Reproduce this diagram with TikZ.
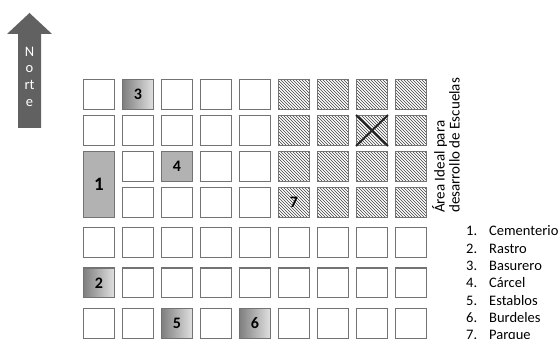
\documentclass[tikz,border=0pt]{standalone}
\usepackage{fontspec}
\setmainfont{Carlito}
\usetikzlibrary{patterns}

\begin{document}
\begin{tikzpicture}[x=1pt,y=-1pt,
  cell/.style={draw=black!55,line width=1.3pt,fill=white,minimum width=30.7pt,minimum height=29.7pt,inner sep=0pt,font=\fontsize{16}{16}\selectfont\bfseries},
  grad/.style={cell,left color=black!50,right color=black!12},
  flat/.style={cell,fill=black!30},
  zone/.style={cell,fill=none,pattern=north west lines,pattern color=black!75},
  cross/.style={line width=2pt,black!85}]

\useasboundingbox (0,0) rectangle (560,339);

% north arrow
\fill[black!62] (18,128)--(18,34)--(7,34)--(29.5,13)--(52,34)--(41,34)--(41,128)--cycle;
\node [anchor=north,inner sep=0pt,align=center,text=white,font=\fontsize{14.5}{16.8}\selectfont] (norte) at (29.5,46.5) {N\\o\\rt\\e};

% row 1
\node[cell] (a1) at (99,94.5) {};\node[grad] (a2) at (138,94.5) {3};\node[cell] (a3) at (177,94.5) {};\node[cell] (a4) at (216,94.5) {};\node[cell] (a5) at (255,94.5) {};
\node[zone] (a6) at (294,94.5) {};\node[zone] (a7) at (333,94.5) {};\node[zone] (a8) at (372,94.5) {};\node[zone] (a9) at (411,94.5) {};

% row 2
\node[cell] (b1) at (99,130.5) {};\node[cell] (b2) at (138,130.5) {};\node[cell] (b3) at (177,130.5) {};\node[cell] (b4) at (216,130.5) {};\node[cell] (b5) at (255,130.5) {};
\node[zone] (b6) at (294,130.5) {};\node[zone] (b7) at (333,130.5) {};\node[zone] (b8) at (372,130.5) {};\node[zone] (b9) at (411,130.5) {};
\draw[cross] (b8.north west)--(b8.south east) (b8.north east)--(b8.south west);

% rows 3 and 4
\node[flat,minimum height=65.7pt,font=\fontsize{19}{19}\selectfont\bfseries] (c1) at (99,184.5) {1};
\node[cell] (c2) at (138,166.5) {};\node[flat] (c3) at (177,166.5) {4};\node[cell] (c4) at (216,166.5) {};\node[cell] (c5) at (255,166.5) {};
\node[zone] (c6) at (294,166.5) {};\node[zone] (c7) at (333,166.5) {};\node[zone] (c8) at (372,166.5) {};\node[zone] (c9) at (411,166.5) {};

\node[cell] (d2) at (138,202.5) {};\node[cell] (d3) at (177,202.5) {};\node[cell] (d4) at (216,202.5) {};\node[cell] (d5) at (255,202.5) {};
\node[zone] (d6) at (294,202.5) {7};\node[zone] (d7) at (333,202.5) {};\node[zone] (d8) at (372,202.5) {};\node[zone] (d9) at (411,202.5) {};

% row 5
\node[cell] (e1) at (99,242.5) {};\node[cell] (e2) at (138,242.5) {};\node[cell] (e3) at (177,242.5) {};\node[cell] (e4) at (216,242.5) {};\node[cell] (e5) at (255,242.5) {};
\node[cell] (e6) at (294,242.5) {};\node[cell] (e7) at (333,242.5) {};\node[cell] (e8) at (372,242.5) {};\node[cell] (e9) at (411,242.5) {};

% row 6
\node[grad] (f1) at (99,283) {2};\node[cell] (f2) at (138,283) {};\node[cell] (f3) at (177,283) {};\node[cell] (f4) at (216,283) {};\node[cell] (f5) at (255,283) {};
\node[cell] (f6) at (294,283) {};\node[cell] (f7) at (333,283) {};\node[cell] (f8) at (372,283) {};\node[cell] (f9) at (411,283) {};

% row 7
\node[cell] (g1) at (99,323.5) {};\node[cell] (g2) at (138,323.5) {};\node[grad] (g3) at (177,323.5) {5};\node[cell] (g4) at (216,323.5) {};\node[grad] (g5) at (255,323.5) {6};
\node[cell] (g6) at (294,323.5) {};\node[cell] (g7) at (333,323.5) {};\node[cell] (g8) at (372,323.5) {};\node[cell] (g9) at (411,323.5) {};

% texts
\node [rotate=90,anchor=west,inner sep=0pt,align=left,font=\fontsize{15}{15}\selectfont] (area) at (446,213) {Área Ideal para\\desarrollo de Escuelas};

\node [anchor=base west,inner sep=0pt,font=\fontsize{14.5}{17.3}\selectfont] (legend) at (466,236)
 {\begin{tabular}[t]{@{}l@{\hspace{12pt}}l@{}}
 1.&Cementerio\\ 2.&Rastro\\ 3.&Basurero\\ 4.&Cárcel\\ 5.&Establos\\ 6.&Burdeles\\ 7.&Parque
 \end{tabular}};

\end{tikzpicture}
\end{document}
